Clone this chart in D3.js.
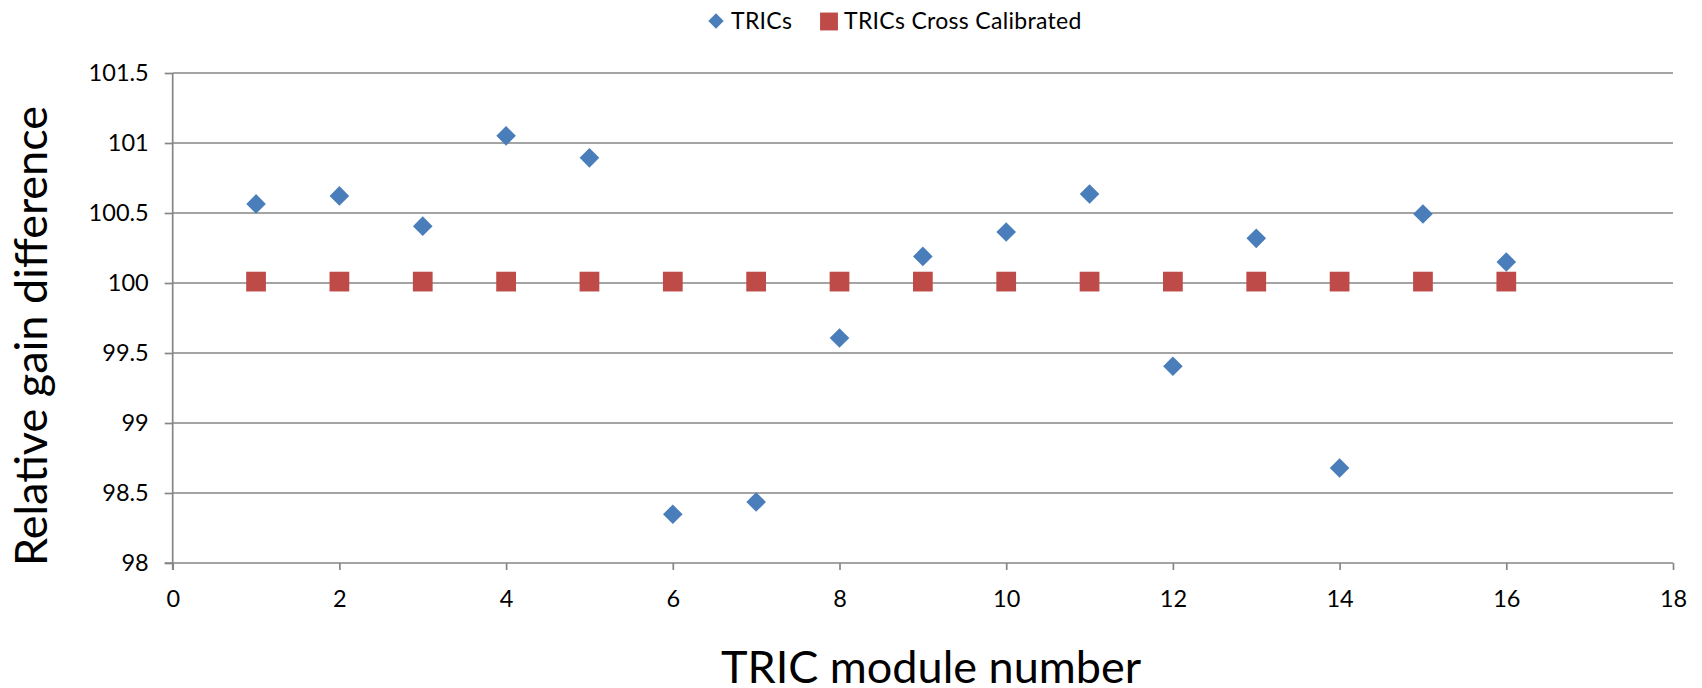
<!DOCTYPE html>
<html>
<head>
<meta charset="utf-8">
<script src="https://cdn.jsdelivr.net/npm/d3@7"></script>
<style>
  html, body { margin: 0; padding: 0; background: #ffffff; }
  svg { display: block; }
  text { font-family: Lato, "Open Sans", "DejaVu Sans", sans-serif; fill: #000; }
</style>
</head>
<body>
<svg id="chart" width="1702" height="688"></svg>
<script>
// Module numbers along the x axis
const modules = [1, 2, 3, 4, 5, 6, 7, 8, 9, 10, 11, 12, 13, 14, 15, 16];
// Relative gain of each TRIC module before cross calibration
const tricsGain = [100.565, 100.622, 100.406, 101.051, 100.894, 98.348, 98.436, 99.607,
                   100.190, 100.364, 100.636, 99.405, 100.319, 98.679, 100.493, 100.150];
// Relative gain after cross calibration
const crossGain = [100.01, 100.01, 100.01, 100.01, 100.01, 100.01, 100.01, 100.01,
                   100.01, 100.01, 100.01, 100.01, 100.01, 100.01, 100.01, 100.01];
// Axis ticks
const xTicks = [0, 2, 4, 6, 8, 10, 12, 14, 16, 18];
const yTicks = [98, 98.5, 99, 99.5, 100, 100.5, 101, 101.5];
const seriesNames = ["TRICs", "TRICs Cross Calibrated"];

const BLUE = "#4A7EBB";
const RED = "#BE4B48";
const GRID = "#868686";

const svg = d3.select("#chart");
const plot = { left: 172.7, right: 1673, top: 73, bottom: 563 };

const x = d3.scaleLinear().domain([0, 18]).range([plot.left, plot.right]);
const y = d3.scaleLinear().domain([98, 101.5]).range([plot.bottom, plot.top]);

// Horizontal gridlines
svg.append("g")
  .selectAll("line")
  .data(yTicks.filter(v => v !== 98))
  .join("line")
  .attr("x1", plot.left).attr("x2", plot.right)
  .attr("y1", d => y(d)).attr("y2", d => y(d))
  .attr("stroke", GRID).attr("stroke-width", 1.7);

// Y axis
const yAxis = svg.append("g")
  .attr("transform", `translate(${plot.left},0)`)
  .call(d3.axisLeft(y).tickValues(yTicks).tickFormat(d3.format("~g")).tickSize(8).tickPadding(16));
// X axis
const xAxis = svg.append("g")
  .attr("transform", `translate(0,${plot.bottom})`)
  .call(d3.axisBottom(x).tickValues(xTicks).tickFormat(d3.format("d")).tickSize(7).tickPadding(20));

[yAxis, xAxis].forEach(g => {
  g.select(".domain").attr("stroke", GRID).attr("stroke-width", 1.7);
  g.selectAll(".tick line").attr("stroke", GRID).attr("stroke-width", 1.7);
  g.selectAll(".tick text")
    .attr("fill", "#000")
    .style("font-family", "Lato, 'Open Sans', sans-serif")
    .style("font-size", "23.5px");
});
yAxis.select(".domain").attr("d", `M0,${plot.top}V${plot.bottom + 7}`);
xAxis.select(".domain").attr("d", `M${plot.left - 8},0H${plot.right}`);

// Symbols
const diamond = d3.symbol().type(d3.symbolDiamond2).size(245);
const square = d3.symbol().type(d3.symbolSquare).size(390);

// Cross calibrated series (drawn first)
svg.append("g")
  .selectAll("path")
  .data(modules.map((m, i) => ({ m, v: crossGain[i] })))
  .join("path")
  .attr("d", square)
  .attr("transform", d => `translate(${x(d.m)},${y(d.v)})`)
  .attr("fill", RED);

// TRICs series
svg.append("g")
  .selectAll("path")
  .data(modules.map((m, i) => ({ m, v: tricsGain[i] })))
  .join("path")
  .attr("d", diamond)
  .attr("transform", d => `translate(${x(d.m)},${y(d.v)})`)
  .attr("fill", BLUE);

// Legend
const legend = svg.append("g");
legend.append("path")
  .attr("d", d3.symbol().type(d3.symbolDiamond2).size(150)())
  .attr("transform", "translate(716,21)")
  .attr("fill", BLUE);
legend.append("text").attr("x", 731).attr("y", 29)
  .style("font-size", "23px").style("letter-spacing", "0.3px").text(seriesNames[0]);
legend.append("path")
  .attr("d", d3.symbol().type(d3.symbolSquare).size(320)())
  .attr("transform", "translate(829,21.5)")
  .attr("fill", RED);
legend.append("text").attr("x", 844).attr("y", 29)
  .style("font-size", "23px").style("letter-spacing", "0.3px").text(seriesNames[1]);

// Axis titles
svg.append("text")
  .attr("x", 931).attr("y", 683)
  .attr("text-anchor", "middle")
  .style("font-size", "45px")
  .text("TRIC module number");

svg.append("text")
  .attr("transform", "translate(47,336) rotate(-90)")
  .attr("text-anchor", "middle")
  .style("font-size", "45px")
  .text("Relative gain difference");
</script>
</body>
</html>
